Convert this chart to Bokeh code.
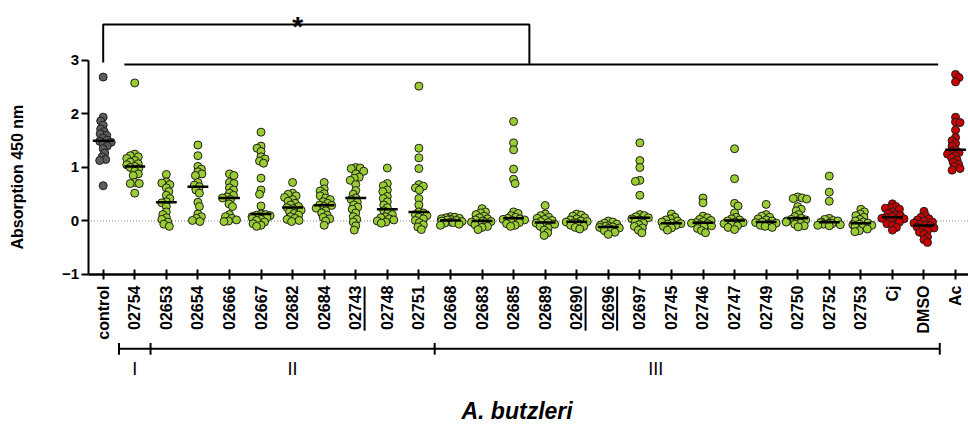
import numpy as np
from bokeh.plotting import figure
from bokeh.models import FixedTicker, ColumnDataSource
from bokeh.core.properties import value
from bokeh.embed import file_html
from bokeh.resources import INLINE

# ---------------- data ----------------
categories = ["control", "02754", "02653", "02654", "02666", "02667", "02682", "02684",
              "02743", "02748", "02751", "02668", "02683", "02685", "02689", "02690",
              "02696", "02697", "02745", "02746", "02747", "02749", "02750", "02752",
              "02753", "Cj", "DMSO", "Ac"]
underlined = ["02743", "02690", "02696"]
kind = ["control"] + ["strain"] * 24 + ["ref", "ref", "ref"]

v_control = [2.69, 1.94, 1.87, 1.79, 1.72, 1.67, 1.63, 1.60, 1.55, 1.51, 1.49, 1.47, 1.44, 1.40, 1.35, 1.27, 1.20, 1.15, 1.13, 0.66]
v_02754 = [2.58, 1.25, 1.22, 1.20, 1.17, 1.13, 1.10, 1.07, 1.05, 1.02, 1.00, 0.98, 0.93, 0.88, 0.85, 0.72, 0.70, 0.70, 0.52]
v_02653 = [0.87, 0.73, 0.71, 0.68, 0.62, 0.55, 0.48, 0.42, 0.36, 0.34, 0.27, 0.17, 0.12, 0.06, 0.03, -0.02, -0.06, -0.10]
v_02654 = [1.42, 1.22, 1.02, 0.97, 0.92, 0.88, 0.85, 0.72, 0.67, 0.64, 0.58, 0.52, 0.35, 0.27, 0.13, 0.08, 0.05, 0.01, -0.01]
v_02666 = [0.88, 0.85, 0.72, 0.70, 0.62, 0.58, 0.52, 0.48, 0.45, 0.43, 0.40, 0.32, 0.27, 0.12, 0.08, 0.05, 0.02, 0.00, -0.01]
v_02667 = [1.66, 1.40, 1.36, 1.30, 1.20, 1.16, 1.12, 1.08, 0.80, 0.58, 0.50, 0.28, 0.13, 0.12, 0.11, 0.10, 0.08, 0.06, 0.05, 0.03, 0.01, -0.02, -0.05, -0.08, -0.10]
v_02682 = [0.72, 0.52, 0.50, 0.47, 0.44, 0.40, 0.37, 0.33, 0.30, 0.27, 0.25, 0.23, 0.20, 0.17, 0.14, 0.11, 0.08, 0.05, 0.03, 0.01, -0.01]
v_02684 = [0.72, 0.60, 0.56, 0.51, 0.47, 0.43, 0.40, 0.36, 0.33, 0.30, 0.29, 0.27, 0.24, 0.19, 0.15, 0.11, 0.07, 0.04, 0.00, -0.08]
v_02743 = [1.00, 0.99, 0.98, 0.93, 0.88, 0.82, 0.80, 0.76, 0.68, 0.57, 0.50, 0.43, 0.40, 0.35, 0.30, 0.26, 0.22, 0.15, 0.08, 0.03, -0.02, -0.09, -0.17]
v_02748 = [0.99, 0.70, 0.66, 0.58, 0.55, 0.46, 0.42, 0.36, 0.30, 0.25, 0.19, 0.15, 0.12, 0.08, 0.06, 0.04, 0.02, 0.00, -0.02, -0.04]
v_02751 = [2.52, 1.36, 1.18, 0.98, 0.68, 0.65, 0.62, 0.58, 0.42, 0.30, 0.17, 0.15, 0.12, 0.10, 0.07, 0.04, 0.01, -0.03, -0.07, -0.11, -0.16]
v_02668 = [0.08, 0.07, 0.06, 0.05, 0.04, 0.03, 0.02, 0.01, 0.00, -0.01, -0.02, -0.03, -0.04, -0.06, -0.08]
v_02683 = [0.23, 0.17, 0.15, 0.12, 0.09, 0.06, 0.04, 0.02, 0.00, -0.01, -0.02, -0.03, -0.05, -0.07, -0.10, -0.12, -0.16]
v_02685 = [1.86, 1.46, 1.33, 0.97, 0.78, 0.70, 0.17, 0.14, 0.10, 0.07, 0.05, 0.04, 0.03, 0.02, 0.01, 0.00, -0.01, -0.03, -0.05, -0.08, -0.10]
v_02689 = [0.29, 0.13, 0.10, 0.07, 0.05, 0.03, 0.01, -0.01, -0.03, -0.04, -0.06, -0.08, -0.10, -0.13, -0.17, -0.22, -0.27]
v_02690 = [0.13, 0.11, 0.09, 0.06, 0.04, 0.02, 0.00, -0.01, -0.02, -0.03, -0.04, -0.06, -0.08, -0.10, -0.12, -0.15]
v_02696 = [0.00, -0.02, -0.04, -0.06, -0.08, -0.09, -0.10, -0.11, -0.12, -0.13, -0.14, -0.16, -0.18, -0.21, -0.25]
v_02697 = [1.46, 1.13, 1.00, 0.76, 0.74, 0.48, 0.12, 0.10, 0.08, 0.06, 0.04, 0.02, -0.01, -0.04, -0.07, -0.10, -0.13, -0.17, -0.22]
v_02745 = [0.13, 0.07, 0.04, 0.02, 0.00, -0.02, -0.04, -0.05, -0.06, -0.08, -0.10, -0.13, -0.17]
v_02746 = [0.43, 0.34, 0.09, 0.06, 0.03, 0.01, -0.01, -0.03, -0.04, -0.05, -0.07, -0.09, -0.11, -0.14, -0.18, -0.22]
v_02747 = [1.35, 0.79, 0.33, 0.28, 0.15, 0.07, 0.04, 0.02, 0.00, -0.02, -0.03, -0.05, -0.07, -0.09, -0.12, -0.16]
v_02749 = [0.31, 0.12, 0.09, 0.07, 0.04, 0.02, 0.00, -0.02, -0.03, -0.04, -0.05, -0.06, -0.08, -0.10, -0.12]
v_02750 = [0.45, 0.43, 0.42, 0.41, 0.27, 0.22, 0.19, 0.12, 0.08, 0.05, 0.03, 0.02, 0.01, 0.00, -0.02, -0.04, -0.06, -0.09, -0.11]
v_02752 = [0.84, 0.54, 0.37, 0.05, 0.03, 0.01, 0.00, -0.02, -0.03, -0.04, -0.05, -0.05, -0.06, -0.07, -0.08, -0.09]
v_02753 = [0.22, 0.17, 0.13, 0.10, 0.07, 0.03, 0.00, -0.02, -0.04, -0.06, -0.07, -0.08, -0.10, -0.12, -0.15, -0.18, -0.20]
v_Cj = [0.32, 0.27, 0.25, 0.24, 0.22, 0.17, 0.14, 0.12, 0.10, 0.08, 0.06, 0.05, 0.04, 0.02, 0.00, -0.02, -0.05, -0.08, -0.12, -0.17]
v_DMSO = [0.18, 0.10, 0.07, 0.04, 0.02, 0.00, -0.02, -0.04, -0.06, -0.08, -0.09, -0.11, -0.13, -0.15, -0.18, -0.21, -0.25, -0.30, -0.35, -0.40]
v_Ac = [2.74, 2.68, 2.60, 1.94, 1.85, 1.84, 1.70, 1.56, 1.50, 1.45, 1.40, 1.33, 1.30, 1.28, 1.25, 1.22, 1.18, 1.14, 1.10, 1.06, 1.02, 0.98, 0.95]

values = [v_control, v_02754, v_02653, v_02654, v_02666, v_02667, v_02682, v_02684,
          v_02743, v_02748, v_02751, v_02668, v_02683, v_02685, v_02689, v_02690,
          v_02696, v_02697, v_02745, v_02746, v_02747, v_02749, v_02750, v_02752,
          v_02753, v_Cj, v_DMSO, v_Ac]

group_names = ["I", "II", "III"]
group_first = [1, 2, 11]      # first strain index of each group
group_last = [1, 10, 24]      # last strain index of each group
group_line_end = [1, 10, 26]  # last category covered by each group's bracket line

y_ticks = [-1, 0, 1, 2, 3]

# ---------------- layout constants ----------------
W, H = 968, 426
AX_X = -0.481         # x position of the y axis (data units)
X0, X1 = -3.253, 27.41
Y0, Y1 = -3.841, 4.121
PX_X = W / (X1 - X0)
PX_Y = H / (Y1 - Y0)
FONT = "Liberation Sans"
colors = {"control": "#5c5c5c", "strain": "#9acd32", "ref": "#cc0000"}


def swarm(vals, diam=4.4, maxoff=11.5):
    """deterministic beeswarm offsets (in category units)"""
    placed = []
    offs = [0.0] * len(vals)
    order = sorted(range(len(vals)), key=lambda i: -vals[i])
    for n, i in enumerate(order):
        py = vals[i] * PX_Y
        chosen = None
        k = 0
        while chosen is None and k * 0.5 <= maxoff:
            signs = (0,) if k == 0 else ((1, -1) if n % 2 else (-1, 1))
            for s in signs:
                px = s * k * 0.5
                if all((px - qx) ** 2 + (py - qy) ** 2 >= diam * diam for qx, qy in placed):
                    chosen = px
                    break
            k += 1
        if chosen is None:
            chosen = (maxoff if n % 2 else -maxoff) * ((n % 5) / 4.0)
        placed.append((chosen, py))
        offs[i] = chosen / PX_X
    return offs


xs, ys, fills = [], [], []
for idx, (vals, kd) in enumerate(zip(values, kind)):
    offs = swarm(vals)
    xs += [idx + o for o in offs]
    ys += vals
    fills += [colors[kd]] * len(vals)
pts = ColumnDataSource(dict(x=xs, y=ys, fill=fills))

med = ColumnDataSource(dict(
    x0=[i - 0.33 for i in range(len(categories))],
    x1=[i + 0.33 for i in range(len(categories))],
    y=[float(np.median(v)) for v in values]))

p = figure(width=W, height=H, x_range=(X0, X1), y_range=(Y0, Y1),
           output_backend="svg", toolbar_location=None,
           min_border_left=0, min_border_right=0, min_border_top=0,
           min_border_bottom=0)
p.grid.visible = False
p.outline_line_color = None
p.background_fill_color = "white"

# dotted zero reference line
p.segment(x0=[AX_X], x1=[X1], y0=[0], y1=[0], line_color="#808080",
          line_dash="1 2", line_width=1)

p.scatter("x", "y", source=pts, size=8, fill_color="fill", line_color="#1e1e1e",
          line_width=1)
p.segment(x0="x0", x1="x1", y0="y", y1="y", source=med, line_color="black",
          line_width=2.5)

# significance brackets
p.line(x=[0, 0, 13.5, 13.5], y=[2.96, 3.673, 3.673, 2.925], line_color="black",
       line_width=2)
p.line(x=[0.67, 26.45], y=[2.925, 2.925], line_color="black", line_width=2)
p.text(x=[6.16], y=[3.64], text=["*"], text_font=value(FONT),
       text_font_size="28px", text_font_style="bold", text_align="center",
       text_baseline="alphabetic", text_color="black")

# axes (fixed at data positions inside the frame)
yax = p.yaxis[0]
yax.fixed_location = AX_X
yax.ticker = FixedTicker(ticks=y_ticks)
yax.bounds = (y_ticks[0], y_ticks[-1])
yax.major_label_text_font = FONT
yax.major_label_text_font_size = "15px"
yax.major_label_text_font_style = "bold"
yax.major_label_text_color = "black"
yax.major_label_standoff = 2
yax.major_tick_in = 0
yax.major_tick_out = 7
yax.minor_tick_in = 0
yax.minor_tick_out = 0
yax.axis_line_width = 2
yax.major_tick_line_width = 2
yax.axis_line_color = "black"
yax.major_tick_line_color = "black"

xax = p.xaxis[0]
xax.fixed_location = y_ticks[0]
xax.bounds = (AX_X, X1)
xax.ticker = FixedTicker(ticks=list(range(len(categories))))
xax.major_label_overrides = {i: c for i, c in enumerate(categories)}
xax.major_label_orientation = np.pi / 2
xax.major_label_text_font = FONT
xax.major_label_text_font_size = "16px"
xax.major_label_text_font_style = "bold"
xax.major_label_text_color = "black"
xax.major_label_standoff = 6
xax.major_tick_in = 5
xax.major_tick_out = 5
xax.minor_tick_in = 0
xax.minor_tick_out = 0
xax.axis_line_width = 2.5
xax.major_tick_line_width = 2
xax.axis_line_color = "black"
xax.major_tick_line_color = "black"

# axis titles
p.text(x=[-2.699], y=[0.82], text=["Absorption 450 nm"], angle=np.pi / 2,
       text_font=value(FONT), text_font_size="16px", text_font_style="bold",
       text_align="center", text_baseline="middle", text_color="black")
p.text(x=[13.11], y=[-3.56], text=["A. butzleri"], text_font=value(FONT),
       text_font_size="23px", text_font_style="bold italic", text_align="center",
       text_baseline="middle", text_color="black")

# underlines of selected labels
ul_x = [categories.index(n) + 0.28 for n in underlined]
p.segment(x0=ul_x, x1=ul_x, y0=[-1.225] * len(ul_x), y1=[-2.05] * len(ul_x),
          line_color="black", line_width=2)

# group brackets below the axis
GY = -2.389
ga = [f - 0.5 for f in group_first]
gb = [e + 0.5 for e in group_line_end]
p.segment(x0=ga, x1=gb, y0=[GY] * 3, y1=[GY] * 3, line_color="black", line_width=2)
ends = sorted(set(ga + gb))
p.segment(x0=ends, x1=ends, y0=[GY + 0.11] * len(ends), y1=[GY - 0.11] * len(ends),
          line_color="black", line_width=2)
p.text(x=[(a + b) / 2 for a, b in zip(group_first, group_last)], y=[-2.757] * 3,
       text=group_names, text_font=value(FONT), text_font_size="18px",
       text_align="center", text_baseline="middle", text_color="black")

open("out.html", "w").write(file_html(p, INLINE))
